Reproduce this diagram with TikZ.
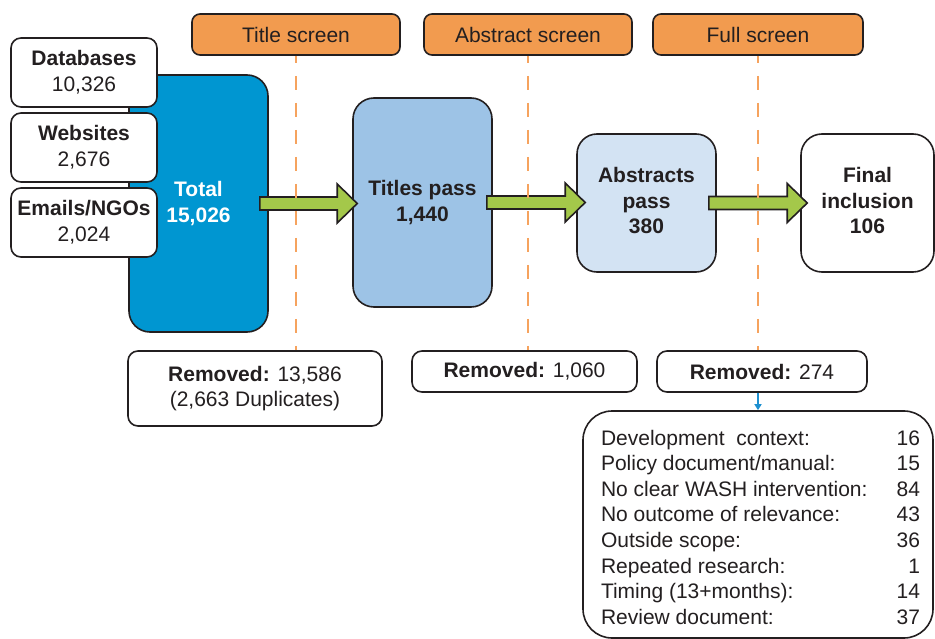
\documentclass[tikz,border=0pt]{standalone}
\usepackage{fontspec}
\setmainfont{Liberation Sans}
\usetikzlibrary{calc,arrows.meta}
\definecolor{ink}{HTML}{231F20}
\definecolor{hdrorange}{HTML}{F29B4F}
\definecolor{dashorange}{HTML}{F6A35E}
\definecolor{totalblue}{HTML}{0096D1}
\definecolor{titlesblue}{HTML}{9DC3E6}
\definecolor{absblue}{HTML}{D3E3F3}
\definecolor{arrowgreen}{HTML}{A4C84A}
\definecolor{linkblue}{HTML}{1E90D0}
\newcommand\grarrow[4]{%
  \draw[garrow]
    ($(#1.east)+(#3,-6.5)$) --
    ($(#1.east -| #2.west)+(-20+#4,-6.5)$) --
    ($(#1.east -| #2.west)+(-20+#4,-19.5)$) --
    ($(#1.east -| #2.west)+(#4,0)$) --
    ($(#1.east -| #2.west)+(-20+#4,19.5)$) --
    ($(#1.east -| #2.west)+(-20+#4,6.5)$) --
    ($(#1.east)+(#3,6.5)$) -- cycle;}
\begin{document}
\begin{tikzpicture}[x=1pt,y=-1pt,
  base/.style={draw=ink, line width=1.6pt, text=ink,
    font=\fontsize{21pt}{25.6pt}\selectfont, inner sep=0pt, align=center},
  srcbox/.style={base, fill=white, rounded corners=10pt,
    minimum width=146pt, minimum height=69pt},
  stagebox/.style={base, rounded corners=21pt, minimum width=139pt},
  hdrbox/.style={base, fill=hdrorange, rounded corners=8pt,
    minimum width=208pt, minimum height=41pt},
  rembox/.style={base, fill=white, rounded corners=10pt},
  listbox/.style={base, fill=white, rounded corners=29pt, align=left,
    minimum width=350pt, minimum height=227pt},
  garrow/.style={draw=ink, line width=1.6pt, fill=arrowgreen, line join=miter},
  dashline/.style={draw=dashorange, line width=2.3pt,
    dash pattern=on 14pt off 13pt, dash phase=7pt},
  bluelink/.style={draw=linkblue, line width=1.8pt,
    -{Triangle[length=6pt,width=7pt]}}
]
\useasboundingbox (0,0) rectangle (935,639);

% stage boxes
\node[stagebox, fill=totalblue, text=white, minimum height=257pt]
  (total) at (198.5,203.5) {\textbf{Total}\\\textbf{15,026}};
\node[srcbox] (db) at (84,72.5) {\textbf{Databases}\\10,326};
\node[srcbox] (ws) at (84,147.5) {\textbf{Websites}\\2,676};
\node[srcbox] (em) at (84,222.5) {\textbf{Emails/NGOs}\\2,024};
\node[stagebox, fill=titlesblue, minimum height=209pt]
  (titles) at (422.5,202.5) {\textbf{Titles pass}\\\textbf{1,440}};
\node[stagebox, fill=absblue, minimum height=138pt, rounded corners=20pt]
  (abs) at (646.5,203) {\begin{tabular}{@{}c@{}}\textbf{Abstracts}\\\textbf{pass}\\\textbf{380}\end{tabular}};
\node[stagebox, fill=white, minimum width=133pt, minimum height=138pt]
  (final) at (867.5,203) {\begin{tabular}{@{}c@{}}\textbf{Final}\\\textbf{inclusion}\\\textbf{106}\end{tabular}};

% green block arrows
\grarrow{total}{titles}{-9}{5}
\grarrow{titles}{abs}{-6}{9}
\grarrow{abs}{final}{-8}{7}

% headers
\node[hdrbox] (h1) at (296,34.5) {Title screen};
\node[hdrbox] (h2) at (528,34.5) {Abstract screen};
\node[hdrbox, minimum width=210pt] (h3) at (758,34.5) {Full screen};

% removed boxes
\node[rembox, minimum width=254pt, minimum height=75pt]
  (rem1) at (255,388.5) {\textbf{Removed:} 13,586\\(2,663 Duplicates)};
\node[rembox, minimum width=225pt, minimum height=41pt]
  (rem2) at (524.5,371.5) {\textbf{Removed:} 1,060};
\node[rembox, minimum width=210pt, minimum height=41pt]
  (rem3) at (762,371.5) {\textbf{Removed:} 274};

% dashed screen lines
\draw[dashline] (h1.south) -- (h1.south |- rem1.north);
\draw[dashline] (h2.south) -- (h2.south |- rem2.north);
\draw[dashline] (h3.south) -- (h3.south |- rem3.north);

% reasons list
\node[listbox] (list) at (758,524.5) {%
  \raisebox{-5pt}[\height][\depth]{\hspace*{5pt}%
  \begin{tabular*}{319pt}{@{}l@{\extracolsep{\fill}}r@{}}
  Development~~context: & 16\\
  Policy document/manual: & 15\\
  No clear WASH intervention: & 84\\
  No outcome of relevance: & 43\\
  Outside scope: & 36\\
  Repeated research: & 1\\
  Timing (13+months): & 14\\
  Review document: & 37
  \end{tabular*}}};
\draw[bluelink] (rem3.south -| list.north) -- (list.north);
\end{tikzpicture}
\end{document}
